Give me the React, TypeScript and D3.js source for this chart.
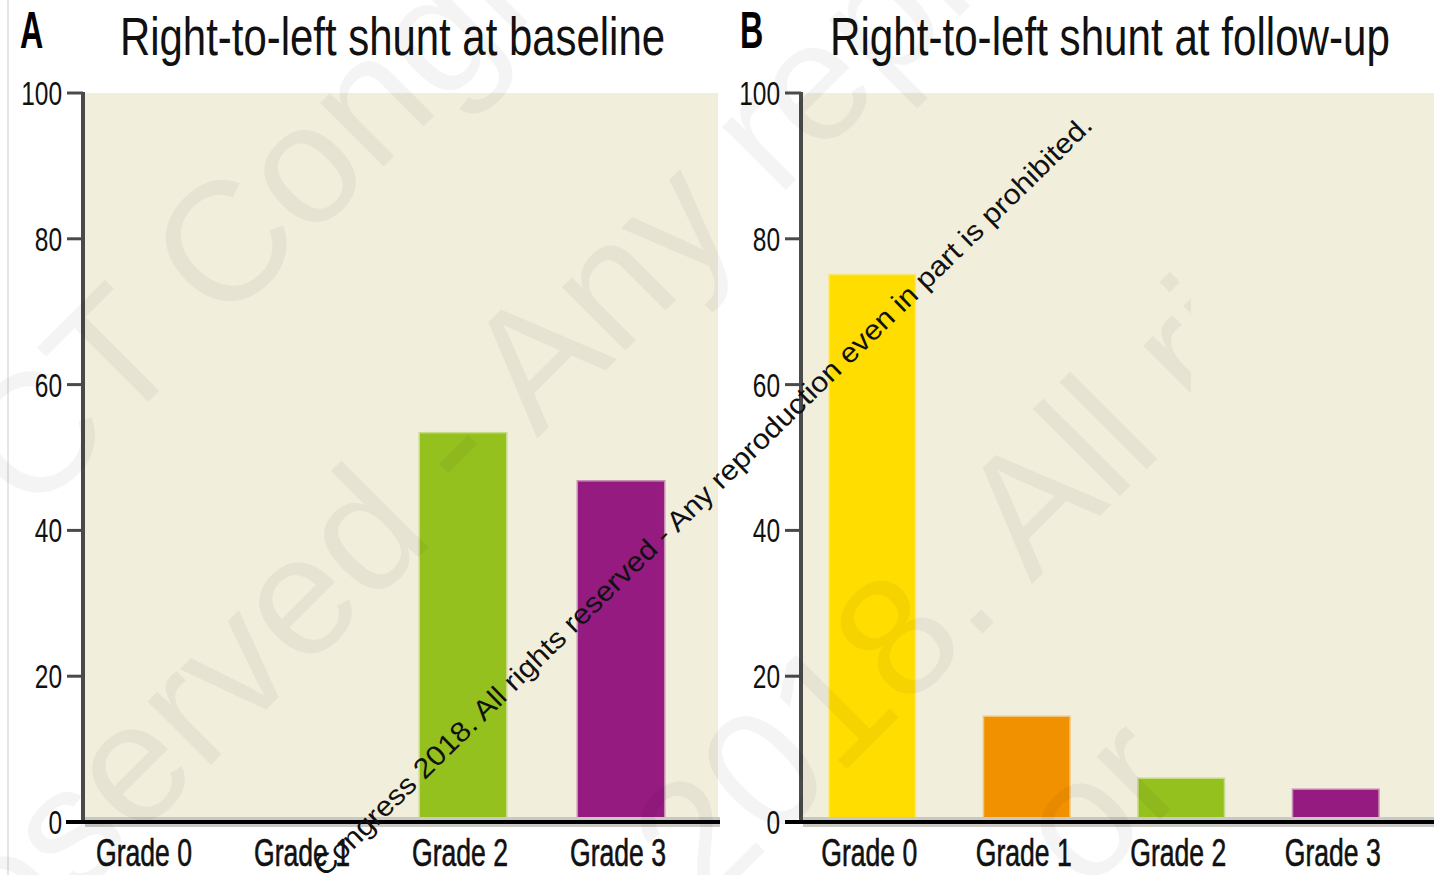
import React from "react";
import * as d3 from "d3";

const categories = ["Grade 0", "Grade 1", "Grade 2", "Grade 3"];
const baselineValues = [0, 0, 53.3, 46.7];
const followUpValues = [75, 14.4, 5.9, 4.4];
const barColors = ["#FFDD00", "#F29100", "#95C11F", "#951B81"];
const yTicks = [0, 20, 40, 60, 80, 100];
const titles = ["Right-to-left shunt at baseline", "Right-to-left shunt at follow-up"];
const panelLetters = ["A", "B"];
const watermark = "Congress 2018. All rights reserved - Any reproduction even in part is prohibited.";
const bigWatermarks = [
  "PCT Congress 2018. All rights",
  "reserved - Any reproduction",
  "2018. All rights reserved",
  "or",
];

const FONT = "'Liberation Sans', Arial, sans-serif";
const SX = 0.72;

type PanelProps = {
  letter: string;
  title: string;
  values: number[];
  axisX: number;
  plotRight: number;
  bandStart: number;
  bandEnd: number;
  pad: number;
  letterX: number;
  titleX: number;
  titleW: number;
  xAxisStart: number;
};

function Panel(p: PanelProps) {
  const y = d3.scaleLinear().domain([0, 100]).range([822, 93]);
  const x = d3
    .scaleBand<string>()
    .domain(categories)
    .range([p.bandStart, p.bandEnd])
    .paddingInner(p.pad)
    .paddingOuter(p.pad / 2);
  return (
    <g>
      <rect x={p.axisX + 2} y={y(100)} width={p.plotRight - p.axisX - 2} height={y(0) - y(100)} fill="#f1eedc" />
      {categories.map((c, i) => {
        const v = p.values[i];
        if (v <= 0) return null;
        return (
          <rect
            key={c}
            x={x(c)}
            y={y(v)}
            width={x.bandwidth()}
            height={y(0) - y(v)}
            fill={barColors[i]}
            stroke={barColors[i]}
            strokeOpacity={0.45}
            strokeWidth={3}
          />
        );
      })}
      {/* y axis */}
      <line x1={p.axisX} x2={p.axisX} y1={y(100) - 1} y2={y(0)} stroke="#4a4a4a" strokeWidth={4} />
      {yTicks.map((t) => (
        <g key={t}>
          <line x1={p.axisX - 16} x2={p.axisX} y1={y(t)} y2={y(t)} stroke="#4a4a4a" strokeWidth={3} />
          <text
            transform={`translate(${p.axisX - 21},${y(t) + 12}) scale(${SX},1)`}
            textAnchor="end"
            fontFamily={FONT}
            fontSize={34}
            fill="#111"
          >
            {t}
          </text>
        </g>
      ))}
      {/* x axis */}
      <line x1={p.axisX + 2} x2={p.plotRight + 2} y1={y(0)} y2={y(0)} stroke="#c9c8c2" strokeWidth={10} />
      <line x1={p.xAxisStart} x2={p.plotRight + 2} y1={y(0)} y2={y(0)} stroke="#000" strokeWidth={4} />
      {categories.map((c) => (
        <text
          key={c}
          transform={`translate(${(x(c) as number) + x.bandwidth() / 2 - 3},866) scale(0.7,1)`}
          textAnchor="middle"
          fontFamily={FONT}
          fontSize={38}
          fill="#111"
          stroke="#111"
          strokeWidth={0.6}
        >
          {c}
        </text>
      ))}
      <text
        transform={`translate(${p.letterX},48) scale(0.62,1)`}
        fontFamily={FONT}
        fontWeight="bold"
        fontSize={52}
        fill="#000"
      >
        {p.letter}
      </text>
      <text
        x={p.titleX}
        y={55}
        fontFamily={FONT}
        fontSize={54}
        fill="#111"
        textLength={p.titleW}
        lengthAdjust="spacingAndGlyphs"
      >
        {p.title}
      </text>
    </g>
  );
}

export default function App() {
  const W = 1434;
  const H = 875;
  return (
    <svg
      width={W}
      height={H}
      style={{ position: "absolute", left: 0, top: 0, background: "#fff" }}
    >
      <defs>
        <clipPath id="wmclip">
          <rect x={0} y={0} width={1191} height={H} />
        </clipPath>
      </defs>
      <rect x={0} y={0} width={W} height={H} fill="#fff" />
      <line x1={8} x2={8} y1={0} y2={H} stroke="#dcdcdc" strokeWidth={1.5} />
      <Panel
        letter={panelLetters[0]}
        title={titles[0]}
        values={baselineValues}
        axisX={83}
        plotRight={718}
        bandStart={68}
        bandEnd={700}
        pad={0.456}
        letterX={20}
        titleX={120}
        titleW={545}
        xAxisStart={66}
      />
      <Panel
        letter={panelLetters[1]}
        title={titles[1]}
        values={followUpValues}
        axisX={801}
        plotRight={1434}
        bandStart={795}
        bandEnd={1413}
        pad={0.45}
        letterX={740}
        titleX={830}
        titleW={560}
        xAxisStart={785}
      />
      {/* faint large watermarks */}
      <g clipPath="url(#wmclip)" fill="#000" fillOpacity={0.045} fontFamily={FONT} fontSize={170}>
        <text transform="translate(-50,600) rotate(-45)">{bigWatermarks[0]}</text>
        <text transform="translate(-31,1007) rotate(-45)">{bigWatermarks[1]}</text>
        <text transform="translate(704,912) rotate(-45)">{bigWatermarks[2]}</text>
        <text transform="translate(1085,895) rotate(-45)">{bigWatermarks[3]}</text>
      </g>
      <text
        transform="translate(1094,127) rotate(-44.3)"
        textAnchor="end"
        fontFamily={FONT}
        fontSize={28}
        fill="#111"
        textLength={1075}
        lengthAdjust="spacingAndGlyphs"
      >
        {watermark}
      </text>
    </svg>
  );
}
